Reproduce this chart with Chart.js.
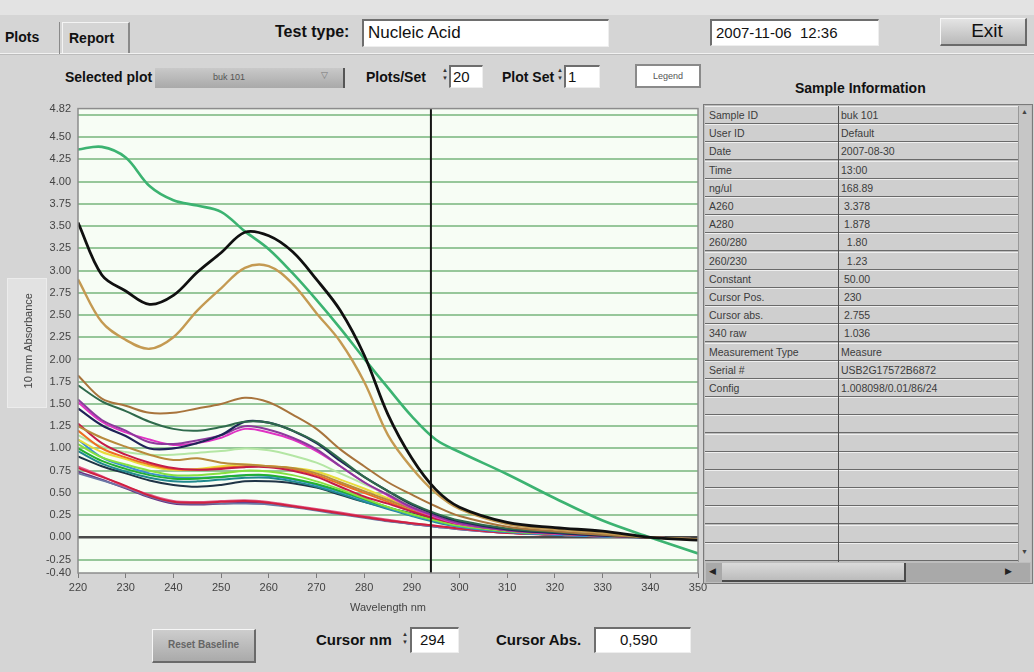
<!DOCTYPE html>
<html>
<head>
<meta charset="utf-8">
<script src="https://cdn.jsdelivr.net/npm/chart.js@4.4.1/dist/chart.umd.min.js"></script>
<style>
  body { margin: 0; width: 1034px; height: 672px; background: #d5d5d5; position: relative; overflow: hidden;
         font-family: "Liberation Sans", Arial, sans-serif; color: #111; }
  .a { position: absolute; white-space: nowrap; }
  .lbl { font-weight: bold; font-size: 15px; }
  .box { background: #fff; border-top: 2px solid #6e6e6e; border-left: 2px solid #6e6e6e;
         border-right: 1px solid #eee; border-bottom: 1px solid #eee; box-sizing: border-box; }
  .btn { background: linear-gradient(#e4e4e4, #b9b9b9); border-top: 1px solid #f6f6f6; border-left: 1px solid #f6f6f6;
         border-right: 2px solid #6a6a6a; border-bottom: 2px solid #6a6a6a; box-sizing: border-box; text-align: center; }
  .spin { width: 6px; font-size: 6px; line-height: 8px; color: #333; }
  #tbl .row { position: absolute; left: 0; width: 313px; height: 18px; box-sizing: border-box;
              border-top: 1px solid #efefef; border-bottom: 1px solid #6a6a6a; background: #cfcfcf;
              font-size: 10.5px; color: #3c3c3c; line-height: 16px; }
  #tbl .c1 { position: absolute; left: 4px; }
  #tbl .c2 { position: absolute; left: 136px; }
</style>
</head>
<body>
<!-- barra superior y pestañas -->
<div class="a" style="left:0;top:0;width:1034px;height:15px;background:#e3e3e3"></div>
<div class="a" style="left:0;top:53px;width:1034px;height:1px;background:#f2f2f2"></div>
<div class="a" style="left:0;top:54px;width:1034px;height:1px;background:#bcbcbc"></div>
<div class="a" style="left:59px;top:22px;width:1px;height:32px;background:#8a8a8a"></div>
<div class="a lbl" style="left:5px;top:29px;font-size:14px">Plots</div>
<div class="a" style="left:62px;top:22px;width:68px;height:31px;border-top:1px solid #f4f4f4;border-left:1px solid #f4f4f4;border-right:2px solid #8a8a8a;box-sizing:border-box"></div>
<div class="a lbl" style="left:69px;top:30px;font-size:14px">Report</div>

<div class="a lbl" style="left:275px;top:23px;font-size:16px">Test type:</div>
<div class="a box" style="left:362px;top:19px;width:247px;height:28px"></div>
<div class="a" style="left:368px;top:23px;font-size:17px">Nucleic Acid</div>
<div class="a box" style="left:710px;top:19px;width:169px;height:27px"></div>
<div class="a" style="left:716px;top:24px;font-size:15px">2007-11-06&nbsp; 12:36</div>
<div class="a btn" style="left:940px;top:18px;width:87px;height:28px;font-size:19px;line-height:24px;padding-left:8px">Exit</div>

<!-- fila de controles -->
<div class="a lbl" style="left:65px;top:69px;font-size:14px">Selected plot</div>
<div class="a" style="left:155px;top:68px;width:190px;height:20px;background:linear-gradient(#c9c9c9,#a9a9a9);border-right:2px solid #555;box-sizing:border-box"></div>
<div class="a" style="left:213px;top:72px;font-size:9px;color:#555">buk 101</div>
<div class="a" style="left:321px;top:70px;font-size:9px;color:#777">&#9661;</div>
<div class="a lbl" style="left:366px;top:69px;font-size:14px">Plots/Set</div>
<div class="a spin" style="left:442px;top:66px">&#9650;<br>&#9660;</div>
<div class="a box" style="left:449px;top:65px;width:34px;height:23px"></div>
<div class="a" style="left:453px;top:68px;font-size:15px">20</div>
<div class="a lbl" style="left:502px;top:69px;font-size:14px">Plot Set</div>
<div class="a spin" style="left:557px;top:66px">&#9650;<br>&#9660;</div>
<div class="a box" style="left:564px;top:65px;width:36px;height:23px"></div>
<div class="a" style="left:568px;top:68px;font-size:15px">1</div>
<div class="a" style="left:635px;top:64px;width:66px;height:24px;background:#fff;border:2px solid #8a8a8a;box-sizing:border-box;font-size:9px;color:#555;text-align:center;line-height:20px">Legend</div>
<div class="a lbl" style="left:795px;top:80px;font-size:14px">Sample Information</div>

<!-- recuadro del título del eje Y -->
<div class="a" style="left:7px;top:278px;width:38px;height:128px;background:#e2e2e2;border:1px solid #ececec"></div>

<canvas id="chartAbs" class="a" style="left:0;top:95px" width="712" height="520"></canvas>

<!-- tabla de información de la muestra -->
<div class="a" style="left:703px;top:104px;width:330px;height:480px;background:#bdbdbd;border:1px solid #7a7a7a;box-sizing:border-box"></div>
<div id="tbl" class="a" style="left:705px;top:106px;width:313px;height:456px;overflow:hidden"></div>
<div class="a" style="left:838px;top:106px;width:1px;height:456px;background:#505050"></div>
<div class="a" style="left:1018px;top:106px;width:12px;height:456px;background:#c6c6c6;border-left:1px solid #999"></div>
<div class="a" style="left:1021px;top:108px;font-size:7px;color:#444">&#9650;</div>
<div class="a" style="left:1021px;top:548px;font-size:7px;color:#444">&#9660;</div>
<div class="a" style="left:706px;top:563px;width:324px;height:19px;background:#a9a9a9"></div>
<div class="a" style="left:722px;top:563px;width:184px;height:19px;background:linear-gradient(#dadada,#bcbcbc);border-bottom:2px solid #4a4a4a;border-right:2px solid #4a4a4a;box-sizing:border-box"></div>
<div class="a" style="left:709px;top:566px;font-size:9px;color:#222">&#9664;</div>
<div class="a" style="left:1005px;top:566px;font-size:9px;color:#222">&#9654;</div>

<!-- controles inferiores -->
<div class="a btn" style="left:152px;top:629px;width:104px;height:34px;font-size:10px;font-weight:bold;color:#666;line-height:30px;background:linear-gradient(#cdcdcd,#aaaaaa)">Reset Baseline</div>
<div class="a lbl" style="left:316px;top:631px">Cursor nm</div>
<div class="a spin" style="left:402px;top:630px">&#9650;<br>&#9660;</div>
<div class="a box" style="left:410px;top:627px;width:49px;height:26px"></div>
<div class="a" style="left:420px;top:631px;font-size:15px">294</div>
<div class="a lbl" style="left:496px;top:631px">Cursor Abs.</div>
<div class="a box" style="left:594px;top:627px;width:97px;height:26px"></div>
<div class="a" style="left:620px;top:631px;font-size:15px">0,590</div>

<script>
// Espectros de absorbancia (10 mm) — 22 muestras, eje X en nm

const WAVELENGTHS = [220, 225, 230, 235, 240, 245, 250, 255, 260, 265, 270, 275, 280, 285, 290, 295, 300, 310, 320, 330, 340, 350];
const CURSOR_NM = 294;
const Y_MIN = -0.40, Y_MAX = 4.82;
const X_MIN = 220, X_MAX = 350;
const X_TICKS = [220, 230, 240, 250, 260, 270, 280, 290, 300, 310, 320, 330, 340, 350];
const Y_TICKS = [-0.40, -0.25, 0, 0.25, 0.5, 0.75, 1, 1.25, 1.5, 1.75, 2, 2.25, 2.5, 2.75, 3, 3.25, 3.5, 3.75, 4, 4.25, 4.5, 4.75, 4.82];

// curvas principales
const absBlack   = [3.54, 2.95, 2.77, 2.62, 2.72, 2.98, 3.20, 3.43, 3.39, 3.21, 2.90, 2.55, 2.05, 1.38, 0.89, 0.54, 0.34, 0.17, 0.11, 0.07, 0.00, -0.03];
const absGreen   = [4.36, 4.39, 4.27, 3.95, 3.79, 3.73, 3.66, 3.44, 3.24, 2.97, 2.67, 2.35, 2.01, 1.68, 1.36, 1.10, 0.96, 0.71, 0.44, 0.19, 0.00, -0.18];
const absTan     = [2.90, 2.42, 2.22, 2.12, 2.25, 2.55, 2.80, 3.03, 3.05, 2.85, 2.52, 2.20, 1.75, 1.15, 0.78, 0.50, 0.32, 0.15, 0.09, 0.05, 0.00, -0.02];
// grupo medio
const absBrown   = [1.82, 1.56, 1.48, 1.40, 1.40, 1.45, 1.50, 1.57, 1.52, 1.38, 1.22, 0.99, 0.80, 0.62, 0.48, 0.35, 0.24, 0.12, 0.07, 0.03, 0.00, -0.02];
const absDkGreen = [1.71, 1.53, 1.42, 1.30, 1.22, 1.20, 1.24, 1.30, 1.29, 1.20, 1.07, 0.88, 0.68, 0.52, 0.38, 0.27, 0.19, 0.10, 0.06, 0.03, 0.00, -0.02];
const absNavy    = [1.45, 1.26, 1.14, 1.00, 1.00, 1.06, 1.15, 1.30, 1.29, 1.20, 1.06, 0.86, 0.68, 0.52, 0.37, 0.26, 0.18, 0.09, 0.05, 0.02, 0.00, -0.02];
const absPurple  = [1.55, 1.32, 1.20, 1.07, 1.05, 1.09, 1.15, 1.25, 1.21, 1.12, 0.99, 0.80, 0.62, 0.48, 0.34, 0.24, 0.16, 0.08, 0.05, 0.02, 0.00, -0.02];
const absMagenta = [1.52, 1.30, 1.18, 1.10, 1.04, 1.06, 1.12, 1.22, 1.18, 1.10, 0.97, 0.80, 0.62, 0.47, 0.33, 0.23, 0.15, 0.08, 0.04, 0.02, 0.00, -0.02];
const absWavy    = [1.25, 1.12, 1.02, 0.93, 0.87, 0.89, 0.84, 0.82, 0.80, 0.78, 0.72, 0.62, 0.52, 0.42, 0.32, 0.23, 0.16, 0.08, 0.04, 0.02, 0.00, -0.02];
const absCrimson = [1.28, 1.06, 0.93, 0.84, 0.78, 0.76, 0.77, 0.79, 0.79, 0.75, 0.68, 0.57, 0.46, 0.38, 0.29, 0.21, 0.15, 0.08, 0.04, 0.02, 0.00, -0.02];
const absOrange  = [1.20, 1.00, 0.90, 0.82, 0.77, 0.76, 0.78, 0.80, 0.80, 0.77, 0.70, 0.60, 0.50, 0.40, 0.30, 0.22, 0.16, 0.08, 0.04, 0.02, 0.00, -0.02];
const absYellow  = [1.10, 0.96, 0.88, 0.80, 0.76, 0.77, 0.80, 0.82, 0.80, 0.78, 0.74, 0.65, 0.55, 0.44, 0.33, 0.24, 0.17, 0.09, 0.05, 0.02, 0.00, -0.02];
const absPale    = [1.15, 1.02, 0.96, 0.93, 0.93, 0.95, 0.97, 1.00, 0.98, 0.92, 0.84, 0.72, 0.60, 0.48, 0.36, 0.26, 0.18, 0.09, 0.05, 0.02, 0.00, -0.02];
const absLime    = [1.05, 0.90, 0.82, 0.75, 0.70, 0.70, 0.72, 0.75, 0.74, 0.70, 0.63, 0.54, 0.44, 0.34, 0.26, 0.19, 0.13, 0.07, 0.04, 0.02, 0.00, -0.02];
const absGreen2  = [1.00, 0.86, 0.77, 0.70, 0.66, 0.66, 0.68, 0.70, 0.70, 0.66, 0.60, 0.52, 0.43, 0.34, 0.26, 0.19, 0.13, 0.07, 0.04, 0.02, 0.00, -0.02];
const absCyan    = [1.10, 0.90, 0.80, 0.72, 0.68, 0.67, 0.68, 0.70, 0.69, 0.65, 0.59, 0.51, 0.42, 0.33, 0.25, 0.18, 0.12, 0.06, 0.03, 0.01, 0.00, -0.02];
const absTeal    = [0.97, 0.83, 0.74, 0.67, 0.63, 0.63, 0.65, 0.67, 0.67, 0.63, 0.57, 0.49, 0.40, 0.32, 0.24, 0.17, 0.12, 0.06, 0.03, 0.01, 0.00, -0.02];
const absSlate   = [0.91, 0.80, 0.72, 0.64, 0.59, 0.57, 0.59, 0.63, 0.63, 0.61, 0.56, 0.48, 0.40, 0.33, 0.27, 0.20, 0.14, 0.07, 0.04, 0.02, 0.00, -0.02];
// grupo bajo
const absRed     = [0.78, 0.68, 0.58, 0.47, 0.40, 0.39, 0.40, 0.41, 0.39, 0.35, 0.31, 0.27, 0.23, 0.19, 0.16, 0.13, 0.10, 0.05, 0.03, 0.01, 0.00, -0.02];
const absPink    = [0.80, 0.69, 0.57, 0.48, 0.41, 0.40, 0.41, 0.42, 0.40, 0.36, 0.32, 0.28, 0.24, 0.20, 0.16, 0.13, 0.10, 0.05, 0.03, 0.01, 0.00, -0.02];
const absBlueGray= [0.72, 0.64, 0.56, 0.46, 0.39, 0.38, 0.38, 0.38, 0.37, 0.34, 0.30, 0.26, 0.22, 0.18, 0.15, 0.12, 0.09, 0.05, 0.03, 0.01, 0.00, -0.02];
const absPlum    = [0.74, 0.65, 0.55, 0.45, 0.38, 0.37, 0.38, 0.39, 0.38, 0.35, 0.31, 0.27, 0.23, 0.19, 0.15, 0.12, 0.09, 0.05, 0.03, 0.01, 0.00, -0.02];

// orden de dibujo: el primero queda encima
const SERIES = [
  [absBlack, "#101010", 2.8],
  [absGreen, "#3cb371", 2.6],
  [absTan, "#c49a52", 2.4],
  [absBrown, "#a8743c", 2.0],
  [absDkGreen, "#2f6a4c", 2.0],
  [absNavy, "#1e2458", 2.2],
  [absPurple, "#8c3a9c", 2.0],
  [absMagenta, "#e032c4", 2.0],
  [absWavy, "#b88a3c", 2.0],
  [absCrimson, "#c41c48", 2.0],
  [absOrange, "#ee6e22", 2.0],
  [absYellow, "#e8dc3a", 2.0],
  [absPale, "#b4e6a4", 2.0],
  [absLime, "#86e040", 2.0],
  [absGreen2, "#22b032", 2.0],
  [absCyan, "#3a90d0", 2.0],
  [absTeal, "#20888e", 2.0],
  [absSlate, "#1f3446", 2.0],
  [absRed, "#d02040", 2.0],
  [absPink, "#e0588a", 1.8],
  [absBlueGray, "#6a78a6", 1.8],
  [absPlum, "#6a3284", 1.8],
];

const INFO_LABELS = ["Sample ID", "User ID", "Date", "Time", "ng/ul", "A260", "A280", "260/280", "260/230",
  "Constant", "Cursor Pos.", "Cursor abs.", "340 raw", "Measurement Type", "Serial #", "Config"];
const INFO_VALUES = ["buk 101", "Default", "2007-08-30", "13:00", "168.89", " 3.378", " 1.878", "  1.80", "  1.23",
  " 50.00", " 230", " 2.755", " 1.036", "Measure", "USB2G17572B6872", "1.008098/0.01/86/24"];
const TABLE_ROWS = 25;

function renderTable() {
  const el = document.getElementById("tbl");
  let html = "";
  for (let i = 0; i < TABLE_ROWS; i++) {
    const a = INFO_LABELS[i] || "", b = (INFO_VALUES[i] || "").replace(/ /g, "&nbsp;");
    html += `<div class="row" style="top:${(i * 18.2).toFixed(1)}px"><span class="c1">${a}</span><span class="c2">${b}</span></div>`;
  }
  el.innerHTML = html;
}

// fondo y marco del área de trazado
const plotFrame = {
  id: "plotFrame",
  beforeDraw(chart) {
    const { ctx, chartArea: a } = chart;
    ctx.save();
    ctx.fillStyle = "#f7fdf5";
    ctx.fillRect(a.left, a.top, a.right - a.left, a.bottom - a.top);
    ctx.restore();
  },
  afterDraw(chart) {
    const { ctx, chartArea: a } = chart;
    ctx.save();
    ctx.strokeStyle = "#8c8c8c";
    ctx.lineWidth = 1.5;
    ctx.strokeRect(a.left, a.top, a.right - a.left, a.bottom - a.top);
    ctx.restore();
  },
};

function renderChart() {
  const datasets = [{
    data: [{ x: CURSOR_NM, y: Y_MIN }, { x: CURSOR_NM, y: Y_MAX }],
    borderColor: "#151515", borderWidth: 2, pointRadius: 0, tension: 0,
  }];
  SERIES.forEach(([vals, color, w]) => {
    datasets.push({
      data: WAVELENGTHS.map((x, i) => ({ x, y: vals[i] })),
      borderColor: color, borderWidth: w, pointRadius: 0, tension: 0.35,
    });
  });

  const tickFont = { family: "'Liberation Sans', Arial, sans-serif", size: 11 };
  new Chart(document.getElementById("chartAbs"), {
    type: "line",
    data: { datasets },
    plugins: [plotFrame],
    options: {
      responsive: false,
      animation: false,
      layout: { padding: { top: 9, right: 14, left: 22, bottom: 0 } },
      plugins: { legend: { display: false }, tooltip: { enabled: false } },
      scales: {
        x: {
          type: "linear", min: X_MIN, max: X_MAX,
          afterBuildTicks: (s) => { s.ticks = X_TICKS.map((v) => ({ value: v })); },
          afterFit: (s) => { s.height = 42; },
          grid: { drawOnChartArea: false, drawTicks: true, tickLength: 5, color: "#7a7a7a" },
          border: { display: false },
          ticks: { color: "#444", font: tickFont, padding: 3, maxRotation: 0 },
          title: { display: true, text: "Wavelength nm", color: "#444", font: tickFont, padding: { top: 0, bottom: 0 } },
        },
        y: {
          min: Y_MIN, max: Y_MAX,
          afterBuildTicks: (s) => { s.ticks = Y_TICKS.map((v) => ({ value: v })); },
          afterFit: (s) => { s.width = 56; },
          grid: {
            drawTicks: false,
            color: (c) => (c.tick.value === 0 ? "#4a4a4a" : "#97c79a"),
            lineWidth: (c) => (c.tick.value === Y_MIN || c.tick.value === Y_MAX ? 0 : c.tick.value === 0 ? 2.5 : 2),
          },
          border: { display: false },
          ticks: {
            color: "#444", font: tickFont, padding: 7,
            callback: (v) => (v === 4.75 ? "" : v.toFixed(2)),
          },
          title: { display: true, text: "10 mm Absorbance", color: "#444", font: tickFont, padding: { top: 0, bottom: 2 } },
        },
      },
    },
  });
}

renderTable();
renderChart();
</script>
</body>
</html>
